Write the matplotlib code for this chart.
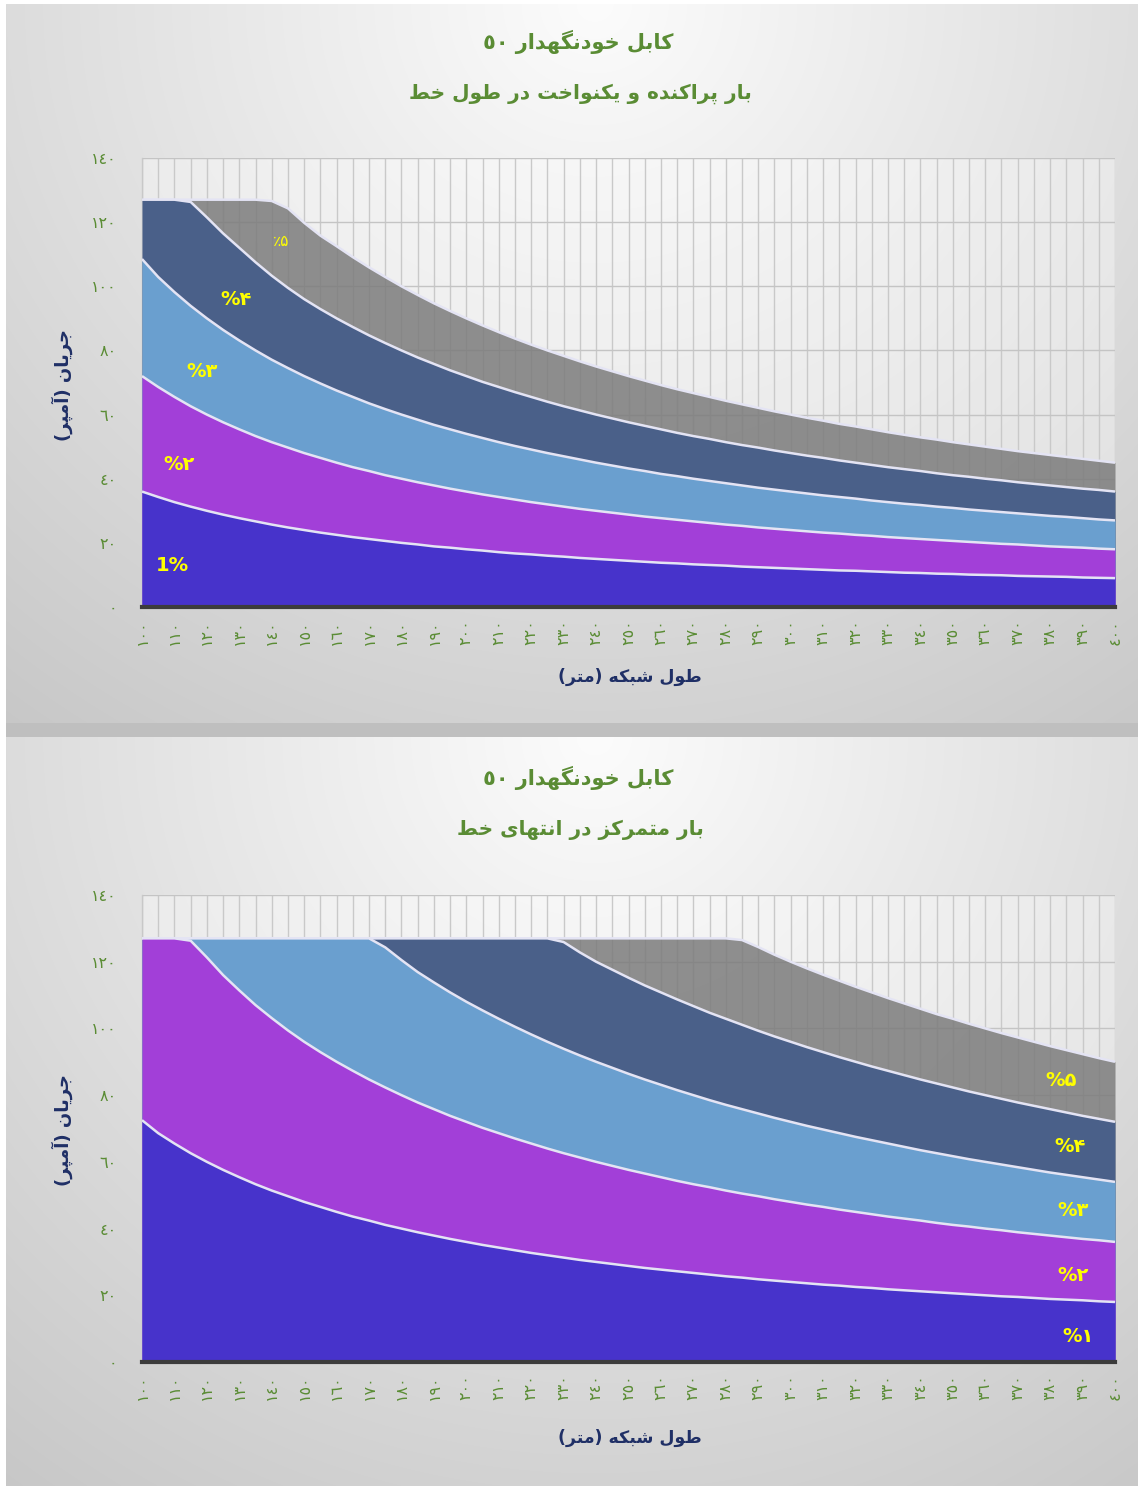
import numpy as np
import matplotlib
matplotlib.use("Agg")
import matplotlib.pyplot as plt

plt.rcParams['font.family'] = ['DejaVu Sans']

W, H = 1141, 1488

# ---------------- data ----------------
lengths = [100, 105, 110, 115, 120, 125, 130, 135, 140, 145, 150, 155, 160, 165, 170, 175,
           180, 185, 190, 195, 200, 205, 210, 215, 220, 225, 230, 235, 240, 245, 250, 255,
           260, 265, 270, 275, 280, 285, 290, 295, 300, 305, 310, 315, 320, 325, 330, 335,
           340, 345, 350, 355, 360, 365, 370, 375, 380, 385, 390, 395, 400]
tick_lengths = [100, 110, 120, 130, 140, 150, 160, 170, 180, 190, 200, 210, 220, 230, 240, 250,
                260, 270, 280, 290, 300, 310, 320, 330, 340, 350, 360, 370, 380, 390, 400]

# top chart: distributed load
dist_1 = [36.0, 34.3, 32.7, 31.3, 30.0, 28.8, 27.7, 26.7, 25.7, 24.8, 24.0, 23.2, 22.5, 21.8, 21.2, 20.6,
          20.0, 19.5, 18.9, 18.5, 18.0, 17.6, 17.1, 16.7, 16.4, 16.0, 15.7, 15.3, 15.0, 14.7, 14.4, 14.1,
          13.8, 13.6, 13.3, 13.1, 12.9, 12.6, 12.4, 12.2, 12.0, 11.8, 11.6, 11.4, 11.3, 11.1, 10.9, 10.7,
          10.6, 10.4, 10.3, 10.1, 10.0, 9.9, 9.7, 9.6, 9.5, 9.4, 9.2, 9.1, 9.0]
dist_2 = [72.0, 68.6, 65.5, 62.6, 60.0, 57.6, 55.4, 53.3, 51.4, 49.7, 48.0, 46.5, 45.0, 43.6, 42.4, 41.1,
          40.0, 38.9, 37.9, 36.9, 36.0, 35.1, 34.3, 33.5, 32.7, 32.0, 31.3, 30.6, 30.0, 29.4, 28.8, 28.2,
          27.7, 27.2, 26.7, 26.2, 25.7, 25.3, 24.8, 24.4, 24.0, 23.6, 23.2, 22.9, 22.5, 22.2, 21.8, 21.5,
          21.2, 20.9, 20.6, 20.3, 20.0, 19.7, 19.5, 19.2, 18.9, 18.7, 18.5, 18.2, 18.0]
dist_3 = [108.5, 102.9, 98.2, 93.9, 90.0, 86.4, 83.1, 80.0, 77.1, 74.5, 72.0, 69.7, 67.5, 65.5, 63.5, 61.7,
          60.0, 58.4, 56.8, 55.4, 54.0, 52.7, 51.4, 50.2, 49.1, 48.0, 47.0, 46.0, 45.0, 44.1, 43.2, 42.4,
          41.5, 40.8, 40.0, 39.3, 38.6, 37.9, 37.2, 36.6, 36.0, 35.4, 34.8, 34.3, 33.8, 33.2, 32.7, 32.2,
          31.8, 31.3, 30.9, 30.4, 30.0, 29.6, 29.2, 28.8, 28.4, 28.1, 27.7, 27.3, 27.0]
dist_4 = [127.0, 127.0, 127.0, 126.3, 121.5, 116.5, 112.0, 107.5, 103.3, 99.5, 96.0, 92.9, 90.0, 87.3, 84.7, 82.3,
          80.0, 77.8, 75.8, 73.8, 72.0, 70.2, 68.6, 67.0, 65.5, 64.0, 62.6, 61.3, 60.0, 58.8, 57.6, 56.5,
          55.4, 54.3, 53.3, 52.4, 51.4, 50.5, 49.7, 48.8, 48.0, 47.2, 46.5, 45.7, 45.0, 44.3, 43.6, 43.0,
          42.4, 41.7, 41.1, 40.6, 40.0, 39.5, 38.9, 38.4, 37.9, 37.4, 36.9, 36.5, 36.0]
dist_5 = [127.0, 127.0, 127.0, 127.0, 127.0, 127.0, 127.0, 127.0, 126.6, 124.3, 119.8, 115.8, 112.5, 109.1, 105.9, 102.9,
          100.0, 97.3, 94.7, 92.3, 90.0, 87.8, 85.7, 83.7, 81.8, 80.0, 78.3, 76.6, 75.0, 73.5, 72.0, 70.6,
          69.2, 67.9, 66.7, 65.5, 64.3, 63.2, 62.1, 61.0, 60.0, 59.0, 58.1, 57.1, 56.3, 55.4, 54.5, 53.7,
          52.9, 52.2, 51.4, 50.7, 50.0, 49.3, 48.6, 48.0, 47.4, 46.8, 46.2, 45.6, 45.0]

# bottom chart: concentrated load at line end
conc_1 = [72.5, 68.6, 65.5, 62.6, 60.0, 57.6, 55.4, 53.3, 51.4, 49.7, 48.0, 46.5, 45.0, 43.6, 42.4, 41.1,
          40.0, 38.9, 37.9, 36.9, 36.0, 35.1, 34.3, 33.5, 32.7, 32.0, 31.3, 30.6, 30.0, 29.4, 28.8, 28.2,
          27.7, 27.2, 26.7, 26.2, 25.7, 25.3, 24.8, 24.4, 24.0, 23.6, 23.2, 22.9, 22.5, 22.2, 21.8, 21.5,
          21.2, 20.9, 20.6, 20.3, 20.0, 19.7, 19.5, 19.2, 18.9, 18.7, 18.5, 18.2, 18.0]
conc_2 = [127.0, 127.0, 127.0, 126.3, 121.3, 116.0, 111.4, 107.0, 103.1, 99.4, 96.0, 92.9, 90.0, 87.3, 84.7, 82.3,
          80.0, 77.8, 75.8, 73.8, 72.0, 70.2, 68.6, 67.0, 65.5, 64.0, 62.6, 61.3, 60.0, 58.8, 57.6, 56.5,
          55.4, 54.3, 53.3, 52.4, 51.4, 50.5, 49.7, 48.8, 48.0, 47.2, 46.5, 45.7, 45.0, 44.3, 43.6, 43.0,
          42.4, 41.7, 41.1, 40.6, 40.0, 39.5, 38.9, 38.4, 37.9, 37.4, 36.9, 36.5, 36.0]
conc_3 = [127.0, 127.0, 127.0, 127.0, 127.0, 127.0, 127.0, 127.0, 127.0, 127.0, 127.0, 127.0, 127.0, 127.0, 127.0, 124.3,
          120.5, 116.9, 113.8, 110.8, 108.0, 105.4, 102.9, 100.5, 98.2, 96.0, 93.9, 91.9, 90.0, 88.2, 86.4, 84.7,
          83.1, 81.5, 80.0, 78.5, 77.1, 75.8, 74.5, 73.2, 72.0, 70.8, 69.7, 68.6, 67.5, 66.5, 65.5, 64.5,
          63.5, 62.6, 61.7, 60.8, 60.0, 59.2, 58.4, 57.6, 56.8, 56.1, 55.4, 54.7, 54.0]
conc_4 = [127.0, 127.0, 127.0, 127.0, 127.0, 127.0, 127.0, 127.0, 127.0, 127.0, 127.0, 127.0, 127.0, 127.0, 127.0, 127.0,
          127.0, 127.0, 127.0, 127.0, 127.0, 127.0, 127.0, 127.0, 127.0, 127.0, 125.9, 122.8, 120.0, 117.6, 115.2, 112.9,
          110.8, 108.7, 106.7, 104.7, 102.9, 101.1, 99.3, 97.6, 96.0, 94.4, 92.9, 91.4, 90.0, 88.6, 87.3, 86.0,
          84.7, 83.5, 82.3, 81.1, 80.0, 78.9, 77.8, 76.8, 75.8, 74.8, 73.8, 72.9, 72.0]
conc_5 = [127.0, 127.0, 127.0, 127.0, 127.0, 127.0, 127.0, 127.0, 127.0, 127.0, 127.0, 127.0, 127.0, 127.0, 127.0, 127.0,
          127.0, 127.0, 127.0, 127.0, 127.0, 127.0, 127.0, 127.0, 127.0, 127.0, 127.0, 127.0, 127.0, 127.0, 127.0, 127.0,
          127.0, 127.0, 127.0, 127.0, 127.0, 126.5, 124.4, 122.1, 120.0, 118.0, 116.1, 114.3, 112.5, 110.8, 109.1, 107.5,
          105.9, 104.3, 102.9, 101.4, 100.0, 98.6, 97.3, 96.0, 94.7, 93.5, 92.3, 91.1, 90.0]

y_ticks = [0, 20, 40, 60, 80, 100, 120, 140]

series_colors = ['#4733CB', '#A23FD8', '#6A9FCF', '#4A6089', '#7C7C7C']

# ---------------- Persian text shaping ----------------
FORMS = {
    'ا': ('\uFE8D', '\uFE8E', None, None),
    'آ': ('\uFE81', '\uFE82', None, None),
    'ب': ('\uFE8F', '\uFE90', '\uFE91', '\uFE92'),
    'پ': ('\uFB56', '\uFB57', '\uFB58', '\uFB59'),
    'ت': ('\uFE95', '\uFE96', '\uFE97', '\uFE98'),
    'ج': ('\uFE9D', '\uFE9E', '\uFE9F', '\uFEA0'),
    'خ': ('\uFEA5', '\uFEA6', '\uFEA7', '\uFEA8'),
    'د': ('\uFEA9', '\uFEAA', None, None),
    'ر': ('\uFEAD', '\uFEAE', None, None),
    'ز': ('\uFEAF', '\uFEB0', None, None),
    'ش': ('\uFEB5', '\uFEB6', '\uFEB7', '\uFEB8'),
    'ط': ('\uFEC1', '\uFEC2', '\uFEC3', '\uFEC4'),
    'ک': ('\uFB8E', '\uFB8F', '\uFB90', '\uFB91'),
    'گ': ('\uFB92', '\uFB93', '\uFB94', '\uFB95'),
    'ل': ('\uFEDD', '\uFEDE', '\uFEDF', '\uFEE0'),
    'م': ('\uFEE1', '\uFEE2', '\uFEE3', '\uFEE4'),
    'ن': ('\uFEE5', '\uFEE6', '\uFEE7', '\uFEE8'),
    'ه': ('\uFEE9', '\uFEEA', '\uFEEB', '\uFEEC'),
    'و': ('\uFEED', '\uFEEE', None, None),
    'ی': ('\uFBFC', '\uFBFD', '\uFBFE', '\uFBFF'),
}
DIGITS = set('0123456789\u0660\u0661\u0662\u0663\u0664\u0665\u0666\u0667\u0668\u0669'
             '\u06F0\u06F1\u06F2\u06F3\u06F4\u06F5\u06F6\u06F7\u06F8\u06F9')
MIRROR = {'(': ')', ')': '('}


def shape(text):
    text = text.replace('\u0643', 'ک').replace('\u064A', 'ی')
    out = []
    n = len(text)
    for i, ch in enumerate(text):
        if ch not in FORMS:
            out.append(ch)
            continue
        prev_j = i > 0 and text[i - 1] in FORMS and FORMS[text[i - 1]][2] is not None
        next_j = (i < n - 1 and text[i + 1] in FORMS and FORMS[ch][2] is not None)
        f = FORMS[ch]
        if prev_j and next_j:
            out.append(f[3])
        elif prev_j:
            out.append(f[1])
        elif next_j:
            out.append(f[2])
        else:
            out.append(f[0])
    s = ''.join(out)
    runs = []
    cur = ''
    cur_d = None
    for ch in s:
        d = ch in DIGITS
        if cur_d is None or d == cur_d:
            cur += ch
        else:
            runs.append((cur, cur_d))
            cur = ch
        cur_d = d
    if cur:
        runs.append((cur, cur_d))
    vis = []
    for r, d in reversed(runs):
        if d:
            vis.append(r)
        else:
            vis.append(''.join(MIRROR.get(c, c) for c in reversed(r)))
    return ''.join(vis)


AR_DIG = '\u0660\u0661\u0662\u0663\u0664\u0665\u0666\u0667\u0668\u0669'


def ar_num(v):
    return ''.join(AR_DIG[int(c)] for c in str(v))


# ---------------- figure ----------------
fig = plt.figure(figsize=(W / 100, H / 100), dpi=100)
fig.patch.set_facecolor('white')

bg = fig.add_axes([0, 0, 1, 1], zorder=-10)
bg.set_xlim(0, W)
bg.set_ylim(H, 0)
bg.axis('off')
img = np.ones((H, W)) * 1.0
yy, xx = np.mgrid[0:H, 0:W]


def panel(y0, y1, x0=6, x1=1138):
    ph = y1 - y0
    pw = x1 - x0
    cx = x0 + pw * 0.52
    dx = (xx - cx) / (pw * 0.78)
    dy = (yy - y0) / (ph * 1.15)
    d = np.sqrt(dx ** 2 + dy ** 2)
    val = (252 - 48 * np.clip(d, 0, 1.3)) / 255.0
    m = (yy >= y0) & (yy < y1) & (xx >= x0) & (xx < x1)
    img[m] = val[m]


panel(4, 723)
panel(737, 1486)
img[723:737, 6:1138] = 0.75
img[:, 0:6] = 1.0
rgb = np.dstack([img, img, img])
bg.imshow(rgb, extent=(0, W, H, 0), aspect='auto', interpolation='bilinear')


def ftext(x, y, s, **kw):
    fig.text(x / W, 1 - y / H, s, **kw)


GREEN = '#5A8C34'
NAVY = '#1F2F66'


def make_chart(top_px, bottom_px, series, labels):
    ax = fig.add_axes([142 / W, 1 - bottom_px / H, (1115 - 142) / W, (bottom_px - top_px) / H])
    ax.set_facecolor((1, 1, 1, 0.35))
    ax.set_xlim(100, 400)
    ax.set_ylim(0, 140)
    for gx in lengths:
        ax.axvline(gx, color='#c9c9c9', lw=1.0, zorder=0)
    for gy in y_ticks[1:]:
        ax.axhline(gy, color='#c4c4c4', lw=1.0, zorder=0)
    for k in range(len(series) - 1, -1, -1):
        vals = series[k]
        alpha = 0.85 if k == 4 else 1.0
        ax.fill_between(lengths, 0, vals, color=series_colors[k], lw=0, alpha=alpha, zorder=2 + (4 - k))
        ax.plot(lengths, vals, color='#e4e4f4', lw=1.8, zorder=2.5 + (4 - k), solid_capstyle='butt',
                solid_joinstyle='round')
    for s in ['top', 'right']:
        ax.spines[s].set_visible(False)
    ax.spines['left'].set_color('#c8c8c8')
    ax.spines['left'].set_linewidth(1.0)
    ax.spines['bottom'].set_color('#3c3c3c')
    ax.spines['bottom'].set_linewidth(3.0)
    ax.spines['bottom'].set_zorder(20)
    ax.set_yticks(y_ticks)
    ax.set_yticklabels([ar_num(v) for v in y_ticks], color=GREEN, fontsize=11.5)
    ax.set_xticks(tick_lengths)
    ax.set_xticklabels([ar_num(v) for v in tick_lengths], rotation=90, color=GREEN, fontsize=11.5, va='top')
    ax.tick_params(axis='y', length=0, pad=18)
    ax.tick_params(axis='x', length=0, pad=9)
    for (x, y, s, kw) in labels:
        ax.text(x, y, s, color='#FFFF00', zorder=30, ha='center', va='center', **kw)
    return ax


top_series = [dist_1, dist_2, dist_3, dist_4, dist_5]
bot_series = [conc_1, conc_2, conc_3, conc_4, conc_5]

top_labels = [
    (109.5, 13, '1%', dict(fontsize=14, fontweight='bold')),
    (111.5, 44.5, '%\u06F2', dict(fontsize=14, fontweight='bold')),
    (118.5, 73.5, '%\u06F3', dict(fontsize=14, fontweight='bold')),
    (129, 96, '%\u06F4', dict(fontsize=14, fontweight='bold')),
    (143, 114, '\u066A\u06F5', dict(fontsize=11)),
]
bot_labels = [
    (383.5, 84.5, '%\u06F5', dict(fontsize=14, fontweight='bold')),
    (386, 64.5, '%\u06F4', dict(fontsize=14, fontweight='bold')),
    (387, 45.5, '%\u06F3', dict(fontsize=14, fontweight='bold')),
    (387, 26, '%\u06F2', dict(fontsize=14, fontweight='bold')),
    (388.5, 7.5, '%\u06F1', dict(fontsize=14, fontweight='bold')),
]

make_chart(158, 607, top_series, top_labels)
make_chart(895, 1362, bot_series, bot_labels)

title1 = shape('کابل خودنگهدار \u0665\u0660')
sub1 = shape('بار پراکنده و یکنواخت در طول خط')
sub2 = shape('بار متمرکز در انتهای خط')
xlab = shape('طول شبکه (متر)')
ylab = shape('جریان (آمپر)')

for (ty, sy, sub) in [(42, 94, sub1), (778, 830, sub2)]:
    ftext(578, ty, title1, ha='center', va='center', color=GREEN, fontsize=15, fontweight='bold')
    ftext(580, sy, sub, ha='center', va='center', color=GREEN, fontsize=14.5, fontweight='bold')

for (xy, yy_) in [(677, 385), (1438, 1130)]:
    ftext(630, xy, xlab, ha='center', va='center', color=NAVY, fontsize=12.5, fontweight='bold')
    ftext(62, yy_, ylab, ha='center', va='center', color=NAVY, fontsize=13, fontweight='bold', rotation=90)

fig.savefig('out.png', dpi=100)
